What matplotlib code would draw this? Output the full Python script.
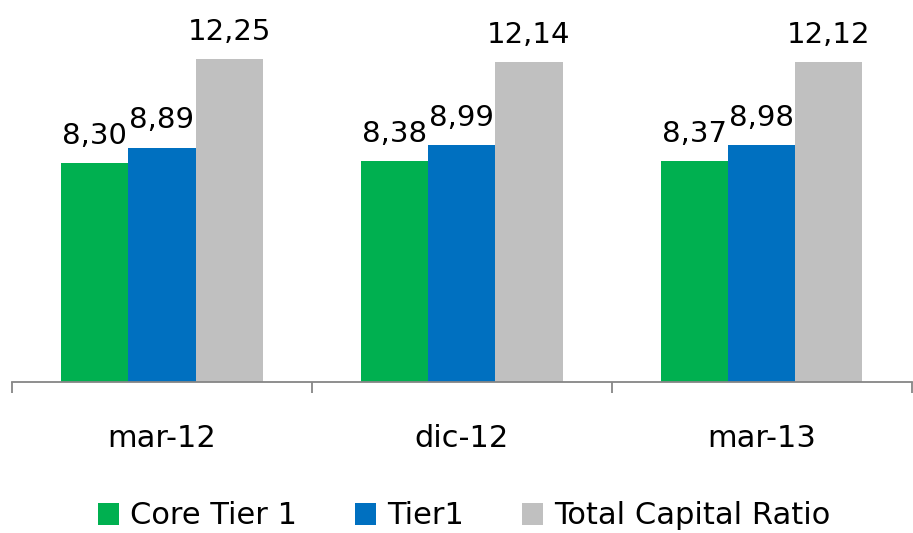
import numpy as np
import matplotlib.pyplot as plt

categories = ['mar-12', 'dic-12', 'mar-13']
series_names = ['Core Tier 1', 'Tier1', 'Total Capital Ratio']
core_tier1 = [8.30, 8.38, 8.37]
tier1 = [8.89, 8.99, 8.98]
total_capital = [12.25, 12.14, 12.12]
colors = ['#00B050', '#0070C0', '#C0C0C0']

plt.rcParams['font.family'] = 'DejaVu Sans'

fig = plt.figure(figsize=(9.13, 5.33), dpi=100)
ax = fig.add_axes([12 / 913, 151 / 533, 0.9985 - 12 / 913, 382 / 533])

x = np.arange(len(categories))
w = 0.224
series = [core_tier1, tier1, total_capital]
for i, (vals, name, col) in enumerate(zip(series, series_names, colors)):
    bars = ax.bar(x + (i - 1) * w, vals, w, color=col, label=name)
    for b, v in zip(bars, vals):
        ax.annotate(f'{v:.2f}'.replace('.', ','),
                    (b.get_x() + b.get_width() / 2, v),
                    xytext=(0, 14), textcoords='offset points',
                    ha='center', va='baseline', fontsize=21, color='black')

ax.set_xlim(-0.5, 2.5)
ax.set_ylim(0, 14.49)

for s in ['top', 'left', 'right']:
    ax.spines[s].set_visible(False)
ax.spines['bottom'].set_color('#868686')
ax.spines['bottom'].set_linewidth(1.3)

ax.set_yticks([])
ax.set_xticks(x)
ax.set_xticklabels(categories, fontsize=22)
ax.tick_params(axis='x', which='major', length=0, pad=30)
ax.set_xticks([-0.5, 0.5, 1.5, 2.5], minor=True)
ax.tick_params(axis='x', which='minor', length=8, width=1.3, color='#868686', direction='out')

fig.legend(loc='center', bbox_to_anchor=(0.508, 1 - 516 / 533), ncol=3, frameon=False,
           fontsize=22, handlelength=0.7, handleheight=0.7, handletextpad=0.35,
           columnspacing=1.9)

fig.savefig('out.png', dpi=100)
